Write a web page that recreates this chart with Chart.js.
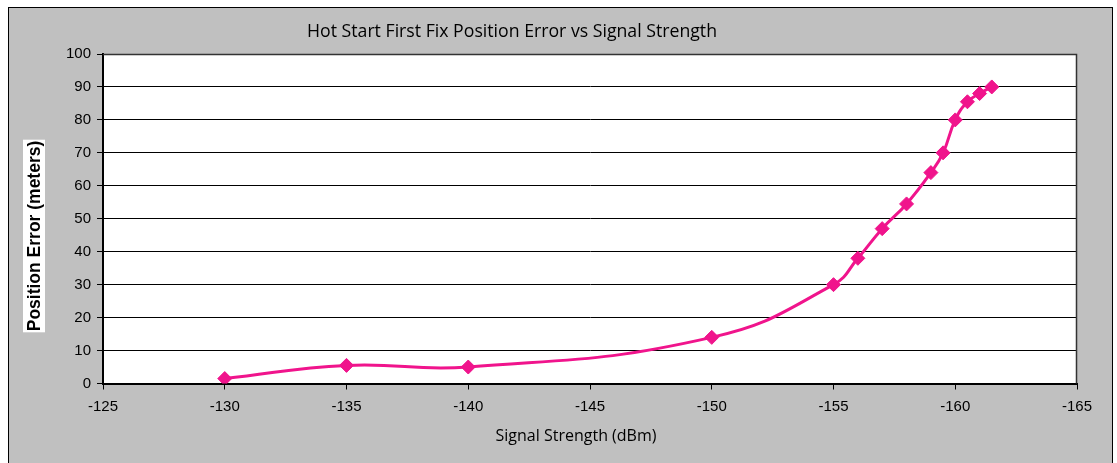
<!DOCTYPE html>
<html>
<head>
<meta charset="utf-8">
<script src="https://cdn.jsdelivr.net/npm/chart.js@4"></script>
<style>
html,body{margin:0;padding:0;background:#fff;}
#wrap{position:relative;width:1117px;height:463px;}
</style>
</head>
<body>
<div id="wrap"><canvas id="c" width="1117" height="463"></canvas></div>
<script>
const signalStrength = [-130, -135, -140, -150, -155, -156, -157, -158, -159, -159.5, -160, -160.5, -161, -161.5];
const positionError  = [1.5, 5.5, 5, 14, 30, 38, 47, 54.5, 64, 70, 80, 85.5, 88, 90];
const chartTitle = 'Hot Start First Fix Position Error vs Signal Strength';
const xTitle = 'Signal Strength (dBm)';
const yTitle = 'Position Error (meters)';
const xMin = -165, xMax = -125, xStep = 5;
const yMin = 0, yMax = 100, yStep = 10;

const points = signalStrength.map((x, i) => ({x: x, y: positionError[i]}));
const PINK = 'rgb(240,20,140)';

const decor = {
  id: 'decor',
  beforeDraw(chart) {
    const ctx = chart.ctx;
    ctx.save();
    ctx.fillStyle = '#fff';
    ctx.fillRect(0, 0, chart.width, chart.height);
    ctx.fillStyle = '#c0c0c0';
    ctx.fillRect(8, 7, 1104, 460);
    ctx.strokeStyle = '#000';
    ctx.lineWidth = 1;
    ctx.strokeRect(8.5, 7.5, 1104, 460);
    const a = chart.chartArea;
    ctx.fillStyle = '#fff';
    ctx.fillRect(a.left, a.top, a.right - a.left, a.bottom - a.top);
    ctx.restore();
  },
  afterDraw(chart) {
    const ctx = chart.ctx;
    const a = chart.chartArea;
    ctx.save();
    ctx.strokeStyle = '#333';
    ctx.lineWidth = 1.5;
    ctx.beginPath();
    ctx.moveTo(a.left, a.top + 0.5);
    ctx.lineTo(a.right - 0.5, a.top + 0.5);
    ctx.lineTo(a.right - 0.5, a.bottom);
    ctx.stroke();
    // title
    ctx.fillStyle = '#000';
    ctx.textAlign = 'center';
    ctx.textBaseline = 'middle';
    ctx.font = '17.7px "Open Sans", sans-serif';
    ctx.fillText(chartTitle, 512, 32);
    // x title
    ctx.font = '16px "Open Sans", sans-serif';
    ctx.fillText(xTitle, 576, 436);
    // y title
    ctx.translate(34, 236);
    ctx.rotate(-Math.PI / 2);
    ctx.font = 'bold 17.5px "Liberation Sans", Arial, sans-serif';
    const w = ctx.measureText(yTitle).width;
    ctx.fillStyle = '#fff';
    ctx.fillRect(-w / 2 - 1, -11, w + 2, 22);
    ctx.fillStyle = '#000';
    ctx.fillText(yTitle, 0, 1);
    ctx.restore();
  }
};

new Chart(document.getElementById('c'), {
  type: 'scatter',
  data: {
    datasets: [{
      data: points,
      showLine: true,
      borderColor: PINK,
      backgroundColor: PINK,
      borderWidth: 3,
      tension: 0.45,
      pointStyle: 'rectRot',
      pointRadius: 7,
      pointHoverRadius: 7,
      pointBorderWidth: 1,
      pointBorderColor: PINK,
      pointBackgroundColor: PINK
    }]
  },
  options: {
    responsive: false,
    animation: false,
    events: [],
    layout: { padding: { left: 8, right: 40, top: 54, bottom: 0 } },
    plugins: { legend: { display: false }, tooltip: { enabled: false }, title: { display: false } },
    scales: {
      x: {
        type: 'linear',
        reverse: true,
        min: xMin, max: xMax,
        afterFit(s) { s.height = 79.5; },
        ticks: { stepSize: xStep, color: '#000', font: { family: '"Liberation Sans", Arial, sans-serif', size: 15 }, padding: 8, maxRotation: 0 },
        grid: { drawOnChartArea: false, drawTicks: true, tickLength: 6, color: '#000', lineWidth: 1 },
        border: { display: true, color: '#000', width: 2 }
      },
      y: {
        min: yMin, max: yMax,
        afterFit(s) { s.width = 95; },
        ticks: { stepSize: yStep, color: '#000', font: { family: '"Liberation Sans", Arial, sans-serif', size: 15 }, padding: 6 },
        grid: { drawOnChartArea: true, drawTicks: true, tickLength: 6, color: '#000', lineWidth: 1 },
        border: { display: true, color: '#000', width: 2 }
      }
    }
  },
  plugins: [decor]
});
</script>
</body>
</html>
